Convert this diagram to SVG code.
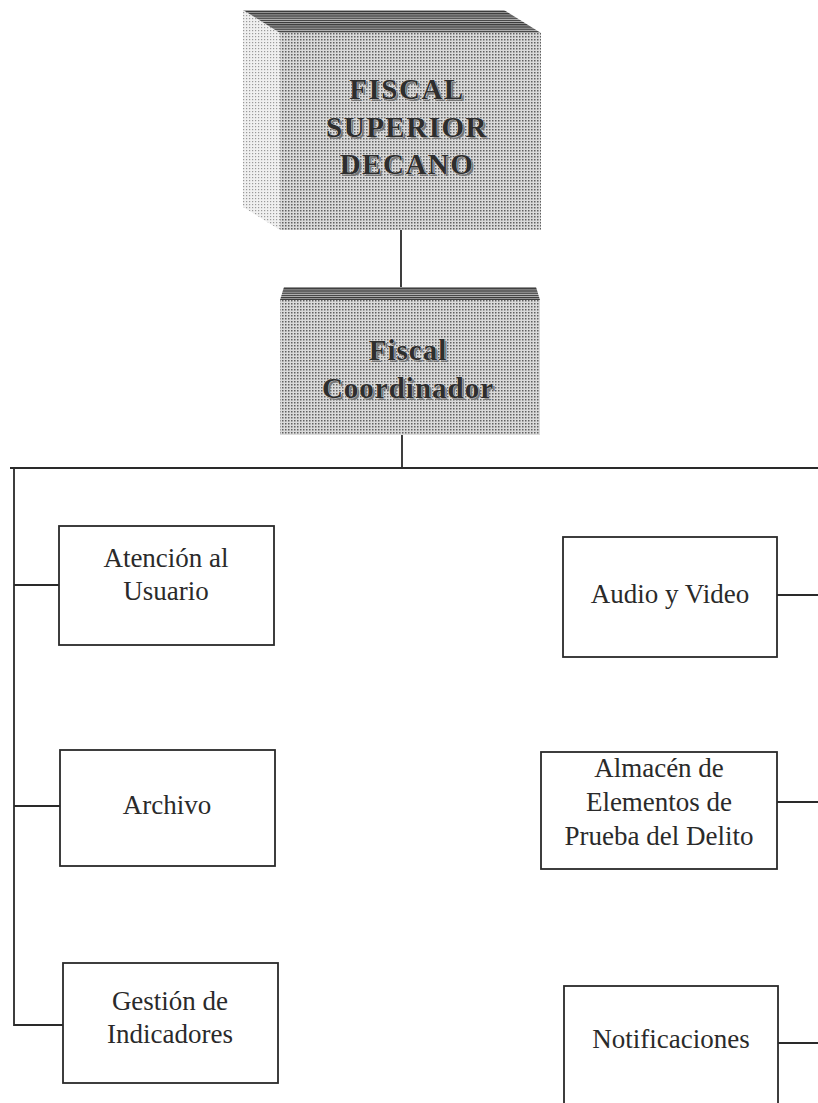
<svg xmlns="http://www.w3.org/2000/svg" width="818" height="1103" viewBox="0 0 818 1103">
<defs>
<pattern id="dots" width="3" height="3" patternUnits="userSpaceOnUse">
<rect width="3" height="3" fill="#dadada"/>
<rect width="1.5" height="1.5" fill="#606060"/>
</pattern>
<pattern id="dotsLight" width="3" height="3" patternUnits="userSpaceOnUse">
<rect width="3" height="3" fill="#f0f0f0"/>
<rect width="1.2" height="1.2" fill="#9a9a9a"/>
</pattern>
<pattern id="stripes" width="4" height="2.2" patternUnits="userSpaceOnUse">
<rect width="4" height="2.2" fill="#bbb"/>
<rect width="4" height="1.2" fill="#333"/>
</pattern>
</defs>
<style>
.box{fill:#fff;stroke:#2a2a2a;stroke-width:1.8}
.lbl{font-family:"Liberation Serif","Times New Roman",serif;font-size:27px;fill:#2a2a2a;text-anchor:middle}
.big{font-family:"Liberation Serif","Times New Roman",serif;font-weight:bold;fill:#2e2e2e;text-anchor:middle;stroke:#e8e8e8;stroke-width:0.6;paint-order:stroke}
.sh{fill:#777;stroke:none}
.con{stroke:#2a2a2a;stroke-width:1.8;fill:none}
</style>
<rect width="818" height="1103" fill="#fff"/>

<g id="connectors">
<line class="con" x1="401" y1="230" x2="401" y2="290"/>
<line class="con" x1="402" y1="435" x2="402" y2="468"/>
<line class="con" x1="10" y1="468" x2="818" y2="468"/>
<polyline class="con" points="14,468 14,1025 63,1025"/>
<line class="con" x1="14" y1="585" x2="59" y2="585"/>
<line class="con" x1="14" y1="806" x2="60" y2="806"/>
<line class="con" x1="777" y1="595" x2="818" y2="595"/>
<line class="con" x1="777" y1="802" x2="818" y2="802"/>
<line class="con" x1="778" y1="1043" x2="818" y2="1043"/>
</g>

<g id="fiscal-superior">
<polygon points="243,10 280,33 280,230 243,207" fill="url(#dotsLight)"/>
<polygon points="243,10 504,10 541,33 280,33" fill="url(#stripes)"/>
<rect x="280" y="33" width="261" height="197" fill="url(#dots)"/>
<text class="big sh" font-size="29" letter-spacing="1.5" x="409" y="101">FISCAL</text>
<text class="big sh" font-size="29" letter-spacing="1.5" x="409" y="139">SUPERIOR</text>
<text class="big sh" font-size="29" letter-spacing="1.5" x="409" y="176">DECANO</text>
<text class="big" font-size="29" letter-spacing="1.5" x="407" y="99">FISCAL</text>
<text class="big" font-size="29" letter-spacing="1.5" x="407" y="137">SUPERIOR</text>
<text class="big" font-size="29" letter-spacing="1.5" x="407" y="174">DECANO</text>
</g>

<g id="fiscal-coordinador">
<polygon points="284,287 536,287 540,300 280,300" fill="url(#stripes)"/>
<rect x="280" y="300" width="260" height="135" fill="url(#dots)"/>
<text class="big sh" font-size="29" letter-spacing="1" x="410" y="362">Fiscal</text>
<text class="big sh" font-size="29" letter-spacing="1" x="410" y="400">Coordinador</text>
<text class="big" font-size="29" letter-spacing="1" x="408" y="360">Fiscal</text>
<text class="big" font-size="29" letter-spacing="1" x="408" y="398">Coordinador</text>
</g>

<g id="atencion">
<rect class="box" x="59" y="526" width="215" height="119"/>
<text class="lbl" x="166" y="567">Atención al</text>
<text class="lbl" x="166" y="600">Usuario</text>
</g>

<g id="archivo">
<rect class="box" x="60" y="750" width="215" height="116"/>
<text class="lbl" x="167" y="814">Archivo</text>
</g>

<g id="gestion">
<rect class="box" x="63" y="963" width="215" height="120"/>
<text class="lbl" x="170" y="1010">Gestión de</text>
<text class="lbl" x="170" y="1043">Indicadores</text>
</g>

<g id="audio">
<rect class="box" x="563" y="537" width="214" height="120"/>
<text class="lbl" x="670" y="603">Audio y Video</text>
</g>

<g id="almacen">
<rect class="box" x="541" y="752" width="236" height="117"/>
<text class="lbl" x="659" y="777">Almacén de</text>
<text class="lbl" x="659" y="811">Elementos de</text>
<text class="lbl" x="659" y="845">Prueba del Delito</text>
</g>

<g id="notificaciones">
<rect class="box" x="564" y="986" width="214" height="130"/>
<text class="lbl" x="671" y="1048">Notificaciones</text>
</g>
</svg>
